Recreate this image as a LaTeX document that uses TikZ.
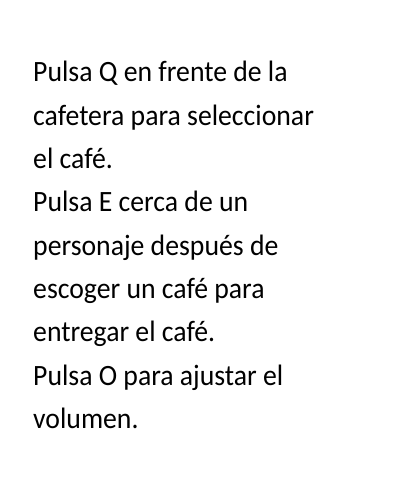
\documentclass[tikz,border=0pt]{standalone}
\usepackage{fontspec}
\setmainfont[FakeStretch=0.94]{Carlito}
\begin{document}
\begin{tikzpicture}[x=1pt,y=1pt,
  txt/.style={anchor=base west,inner sep=0pt,font=\fontsize{29.5}{35}\selectfont}]
\useasboundingbox (0,0) rectangle (400,-500);
\fill[white] (0,0) rectangle (400,-500);
\node[txt] (l1) at (33,-82.0) {Pulsa Q en frente de la};
\node[txt] (l2) at (33,-125.3) {cafetera para seleccionar};
\node[txt] (l3) at (33,-168.6) {el café.};
\node[txt] (l4) at (33,-211.9) {Pulsa E cerca de un};
\node[txt] (l5) at (33,-255.2) {personaje después de};
\node[txt] (l6) at (33,-298.5) {escoger un café para};
\node[txt] (l7) at (33,-341.8) {entregar el café.};
\node[txt] (l8) at (33,-385.1) {Pulsa O para ajustar el};
\node[txt] (l9) at (33,-428.4) {volumen.};
\end{tikzpicture}
\end{document}
